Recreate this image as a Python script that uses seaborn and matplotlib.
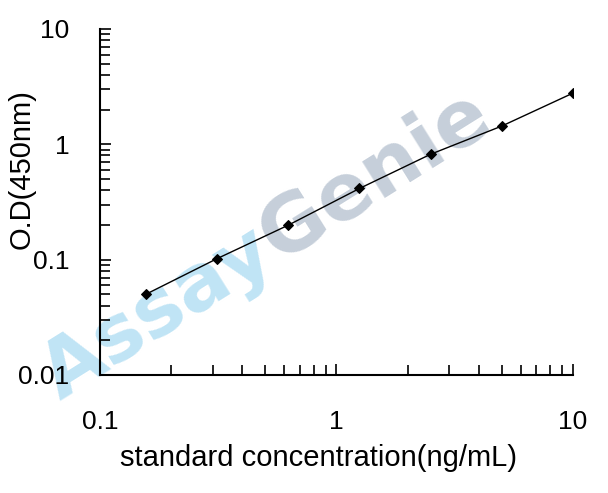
import numpy as np
import pandas as pd
import matplotlib
matplotlib.use("Agg")
import matplotlib.pyplot as plt
import seaborn as sns
from matplotlib.ticker import LogLocator, NullFormatter, FixedLocator, FixedFormatter

# standard curve data
conc = [0.156, 0.3125, 0.625, 1.25, 2.5, 5, 10]
od = [0.050, 0.102, 0.199, 0.414, 0.82, 1.44, 2.78]
xticks = [0.1, 1, 10]
xticklabels = ["0.1", "1", "10"]
yticks = [0.01, 0.1, 1, 10]
yticklabels = ["0.01", "0.1", "1", "10"]

df = pd.DataFrame({"conc": conc, "od": od})

sns.set_style("ticks")
plt.rcParams['font.family'] = ['Liberation Sans', 'DejaVu Sans']
plt.rcParams['text.color'] = 'black'
plt.rcParams['axes.labelcolor'] = 'black'
plt.rcParams['xtick.color'] = 'black'
plt.rcParams['ytick.color'] = 'black'

fig = plt.figure(figsize=(6.08, 4.93), dpi=100)
ax = fig.add_axes([0.1645, 0.2394, 0.7779, 0.7018])

# watermark (pixel positions converted to axes fraction)
def px(x, y):
    return ((x - 100) / 473.0, (375 - y) / 346.0)

ax.text(*px(158, 314), "Assay", transform=ax.transAxes, color="#c0e4f5",
        fontsize=57, fontweight="bold", family="DejaVu Sans", rotation=32,
        rotation_mode="anchor", ha="center", va="center", zorder=0.5, clip_on=False)
ax.text(*px(375, 176), "Genie", transform=ax.transAxes, color="#c6cfda",
        fontsize=57, fontweight="bold", family="DejaVu Sans", rotation=32,
        rotation_mode="anchor", ha="center", va="center", zorder=0.5, clip_on=False)

sns.lineplot(data=df, x="conc", y="od", ax=ax, color="black", marker="D",
             markersize=5.5, linewidth=1, markeredgecolor="black", zorder=3)

ax.set_xscale("log")
ax.set_yscale("log")
ax.set_xlim(0.1, 10)
ax.set_ylim(0.01, 10)

ax.xaxis.set_major_locator(FixedLocator(xticks))
ax.xaxis.set_major_formatter(FixedFormatter(xticklabels))
ax.yaxis.set_major_locator(FixedLocator(yticks))
ax.yaxis.set_major_formatter(FixedFormatter(yticklabels))
ax.xaxis.set_minor_locator(LogLocator(base=10, subs=np.arange(2, 10)))
ax.yaxis.set_minor_locator(LogLocator(base=10, subs=np.arange(2, 10)))
ax.xaxis.set_minor_formatter(NullFormatter())
ax.yaxis.set_minor_formatter(NullFormatter())

ax.tick_params(axis="both", which="both", direction="in", length=7, width=1.2,
               color="black", labelcolor="black", labelsize=19)
ax.tick_params(axis="both", which="major", length=8)
ax.tick_params(axis="y", which="major", pad=22)
ax.tick_params(axis="x", which="major", pad=25)

ax.set_xlabel("standard concentration(ng/mL)", fontsize=21, color="black")
ax.set_ylabel("O.D(450nm)", fontsize=21, color="black")
ax.xaxis.set_label_coords(0.463, -0.2)
ax.yaxis.set_label_coords(-0.137, 0.595)

sns.despine(ax=ax)
for s in ["left", "bottom"]:
    ax.spines[s].set_linewidth(1.5)
    ax.spines[s].set_color("black")

plt.savefig("out.png", dpi=100)
